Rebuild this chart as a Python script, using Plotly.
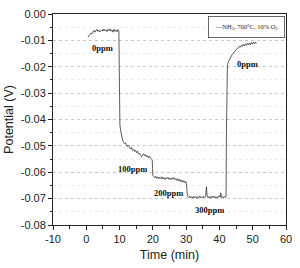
import plotly.graph_objects as go

# ---- data ----
time_min = [
    0.5, 0.8, 1.1, 1.4, 1.7, 2.0, 2.3, 2.6, 2.9, 3.2, 3.5, 3.8, 4.1, 4.4, 4.7, 5.0,
    5.3, 5.6, 5.9, 6.2, 6.5, 6.8, 7.1, 7.4, 7.7, 8.0, 8.3, 8.6, 8.9, 9.2, 9.5, 9.7,
    9.8, 9.9, 10.0, 10.1, 10.3, 10.6, 10.9, 11.2, 11.5, 11.8, 12.1, 12.4, 12.7, 13.0,
    13.3, 13.6, 13.9, 14.2, 14.5, 14.8, 15.1, 15.4, 15.7, 16.0, 16.3, 16.6, 16.9,
    17.2, 17.5, 17.8, 18.1, 18.4, 18.7, 19.0, 19.3, 19.6, 19.8, 19.9, 20.0, 20.3,
    20.6, 20.9, 21.2, 21.5, 21.8, 22.1, 22.4, 22.7, 23.0, 23.3, 23.6, 23.9, 24.2,
    24.5, 24.8, 25.1, 25.4, 25.7, 26.0, 26.3, 26.6, 26.9, 27.2, 27.5, 27.8, 28.1,
    28.4, 28.7, 29.0, 29.3, 29.6, 29.9, 30.1, 30.3, 30.5,
    30.8, 31.1, 31.4, 31.7, 32.0, 32.3, 32.6, 32.9, 33.2, 33.5, 33.8, 34.1, 34.4,
    34.7, 35.0, 35.3, 35.6, 35.9, 36.1, 36.3, 36.6, 36.9, 37.2, 37.5, 37.8, 38.1,
    38.4, 38.7, 39.0, 39.3, 39.6, 39.9, 40.2, 40.4, 40.6, 40.9, 41.2, 41.5, 41.8, 42.0,
    42.1, 42.2, 42.4, 42.7, 43.0, 43.3, 43.6, 43.9, 44.2, 44.5, 44.8, 45.1, 45.4,
    45.7, 46.0, 46.3, 46.6, 46.9, 47.2, 47.5, 47.8, 48.1, 48.4, 48.7, 49.0, 49.3,
    49.6, 49.9, 50.2, 50.5, 50.8, 51.1,
]
potential_v = [
    -0.0088, -0.0082, -0.0079, -0.0072, -0.0075, -0.0066, -0.0062, -0.0069, -0.0064, -0.0058,
    -0.0066, -0.0061, -0.0068, -0.0063, -0.0059, -0.0065, -0.0057, -0.0064, -0.0060, -0.0067,
    -0.0058, -0.0063, -0.0056, -0.0065, -0.0060, -0.0069, -0.0058, -0.0066, -0.0061, -0.0068,
    -0.0059, -0.0062,
    -0.0064, -0.0200, -0.0380, -0.0420, -0.0440, -0.0465, -0.0478, -0.0485, -0.0492, -0.0489,
    -0.0498, -0.0503, -0.0497, -0.0508, -0.0512, -0.0506, -0.0517, -0.0513, -0.0521, -0.0516,
    -0.0526, -0.0520, -0.0531, -0.0527, -0.0535, -0.0541, -0.0536, -0.0530, -0.0538, -0.0533,
    -0.0542, -0.0537, -0.0545, -0.0539, -0.0546, -0.0548, -0.0552, -0.0585, -0.0612, -0.0617,
    -0.0621, -0.0615, -0.0623, -0.0618, -0.0625, -0.0619, -0.0624, -0.0617, -0.0626, -0.0620,
    -0.0627, -0.0621, -0.0625, -0.0619, -0.0627, -0.0622, -0.0628, -0.0621, -0.0626, -0.0620,
    -0.0628, -0.0624, -0.0631, -0.0625, -0.0633, -0.0627, -0.0636, -0.0630, -0.0638, -0.0632,
    -0.0640, -0.0635, -0.0645, -0.0680, -0.0692,
    -0.0696, -0.0690, -0.0697, -0.0692, -0.0698, -0.0691, -0.0697, -0.0693, -0.0699, -0.0692,
    -0.0696, -0.0690, -0.0697, -0.0693, -0.0698, -0.0691, -0.0695, -0.0688, -0.0655, -0.0690,
    -0.0697, -0.0692, -0.0698, -0.0691, -0.0696, -0.0690, -0.0697, -0.0692, -0.0698, -0.0693,
    -0.0697, -0.0689, -0.0694, -0.0678, -0.0696, -0.0691, -0.0697, -0.0692, -0.0696, -0.0690,
    -0.0450, -0.0220, -0.0195, -0.0180, -0.0172, -0.0165, -0.0160, -0.0152, -0.0148, -0.0143,
    -0.0138, -0.0134, -0.0130, -0.0129, -0.0122, -0.0126, -0.0118, -0.0123, -0.0115, -0.0121,
    -0.0113, -0.0119, -0.0111, -0.0117, -0.0110, -0.0116, -0.0108, -0.0114, -0.0107, -0.0113,
    -0.0106, -0.0112,
]

label_texts = ["0ppm", "100ppm", "200ppm", "300ppm", "0ppm"]
label_x = [5.0, 13.9, 24.7, 37.1, 48.5]
label_y = [-0.0127, -0.0588, -0.0678, -0.0743, -0.0190]

x_tick_vals = [-10, 0, 10, 20, 30, 40, 50, 60]
x_tick_text = ["-10", "0", "10", "20", "30", "40", "50", "60"]
y_tick_vals = [0.0, -0.01, -0.02, -0.03, -0.04, -0.05, -0.06, -0.07, -0.08]
y_tick_text = ["0.00", "-0.01", "-0.02", "-0.03", "-0.04", "-0.05", "-0.06", "-0.07", "-0.08"]

legend_text = "NH<sub>3</sub>, 700°C, 10% O<sub>2</sub>"

fig = go.Figure()
fig.add_trace(go.Scatter(
    x=time_min, y=potential_v, mode="lines",
    line=dict(color="#333333", width=0.8),
    showlegend=False, name="NH3, 700°C, 10% O2",
))

for t, xx, yy in zip(label_texts, label_x, label_y):
    fig.add_annotation(x=xx, y=yy, text="<b>" + t + "</b>", showarrow=False,
                       font=dict(family="Liberation Serif", size=8.5, color="#111111"))

# legend box drawn as an annotation
fig.add_annotation(
    xref="paper", yref="paper", x=0.995, y=0.992, xanchor="right", yanchor="top",
    text="—" + legend_text, showarrow=False, align="left",
    font=dict(family="Liberation Serif", size=6.5, color="#222222"),
    bordercolor="#444444", borderwidth=0.8, borderpad=6, bgcolor="white",
)

axis_common = dict(
    showline=True, linecolor="#222222", linewidth=1, mirror=True,
    ticks="outside", ticklen=4, tickwidth=1, tickcolor="#222222",
    tickfont=dict(family="Liberation Sans", size=11, color="#222222"),
    zeroline=False,
)

fig.update_xaxes(
    range=[-10, 60], tickvals=x_tick_vals, ticktext=x_tick_text,
    showgrid=False,
    minor=dict(ticks="outside", ticklen=2.5, tickcolor="#222222", dtick=5, tick0=-10, showgrid=False),
    title=dict(text="Time (min)", font=dict(family="Liberation Sans", size=12.5, color="#222222"), standoff=6),
    **axis_common,
)
fig.update_yaxes(
    range=[-0.08, 0.0], tickvals=y_tick_vals, ticktext=y_tick_text,
    showgrid=True, gridcolor="#c8c8c8", griddash="dot", gridwidth=1,
    minor=dict(ticks="outside", ticklen=2.5, tickcolor="#222222", dtick=0.005, tick0=0,
               showgrid=True, gridcolor="#ebebeb", griddash="dot", gridwidth=1),
    title=dict(text="Potential (V)", font=dict(family="Liberation Sans", size=12.5, color="#222222"), standoff=4),
    **axis_common,
)

fig.update_layout(
    width=300, height=268,
    margin=dict(l=52, r=8, t=11, b=39),
    paper_bgcolor="white", plot_bgcolor="white",
)

fig.write_html("out.html")
